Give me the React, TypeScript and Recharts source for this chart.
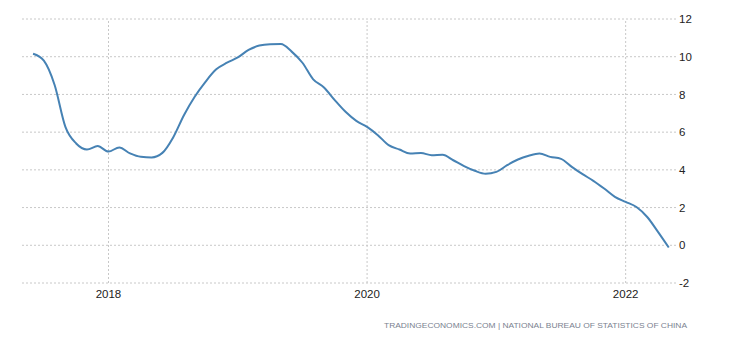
import React from "react";
import { LineChart, Line, XAxis, YAxis, CartesianGrid, ReferenceLine } from "recharts";

const months: string[] = [
  "2017-06", "2017-07", "2017-08", "2017-09", "2017-10", "2017-11", "2017-12",
  "2018-01", "2018-02", "2018-03", "2018-04", "2018-05", "2018-06", "2018-07", "2018-08", "2018-09", "2018-10", "2018-11", "2018-12",
  "2019-01", "2019-02", "2019-03", "2019-04", "2019-05", "2019-06", "2019-07", "2019-08", "2019-09", "2019-10", "2019-11", "2019-12",
  "2020-01", "2020-02", "2020-03", "2020-04", "2020-05", "2020-06", "2020-07", "2020-08", "2020-09", "2020-10", "2020-11", "2020-12",
  "2021-01", "2021-02", "2021-03", "2021-04", "2021-05", "2021-06", "2021-07", "2021-08", "2021-09", "2021-10", "2021-11", "2021-12",
  "2022-01", "2022-02", "2022-03", "2022-04", "2022-05",
];

const values: number[] = [
  10.16, 9.79, 8.5, 6.28, 5.4, 5.08, 5.26,
  4.97, 5.19, 4.87, 4.69, 4.66, 4.9, 5.72, 6.9, 7.88, 8.67, 9.33, 9.68,
  9.96, 10.36, 10.59, 10.66, 10.67, 10.27, 9.68, 8.8, 8.37, 7.7, 7.08, 6.6,
  6.28, 5.84, 5.31, 5.08, 4.87, 4.89, 4.78, 4.8, 4.51, 4.2, 3.95, 3.79,
  3.89, 4.25, 4.55, 4.75, 4.87, 4.69, 4.58, 4.16, 3.77, 3.42, 3.01, 2.57,
  2.3, 2.03, 1.5, 0.71, -0.12,
];

const xTicks: number[] = [2018, 2020, 2022];
const yTicks: number[] = [-2, 0, 2, 4, 6, 8, 10, 12];
const sourceText = "TRADINGECONOMICS.COM | NATIONAL BUREAU OF STATISTICS OF CHINA";

const toYear = (m: string) => {
  const [y, mo] = m.split("-").map(Number);
  return y + (mo - 1) / 12;
};

const data = months.map((m, i) => ({ t: toYear(m), v: values[i] }));

export default function App() {
  return (
    <div style={{ position: "absolute", left: 0, top: 0, width: 730, height: 340, background: "#fff" }}>
      <LineChart
        width={730}
        height={340}
        data={data}
        margin={{ top: 19, right: 0, bottom: 27, left: 22 }}
      >
        <CartesianGrid stroke="#c8c8c8" strokeDasharray="2 2" vertical={false} />
        {xTicks.map((t) => (
          <ReferenceLine key={t} x={t} stroke="#c8c8c8" strokeDasharray="2 2" />
        ))}
        <XAxis
          dataKey="t"
          type="number"
          domain={[2017.331, 2022.397]}
          ticks={xTicks}
          tickFormatter={(v: number) => String(v)}
          axisLine={false}
          tickLine={false}
          tickSize={0}
          tickMargin={7}
          height={30}
          tick={{ fill: "#222", fontSize: 11.5, fontFamily: "Liberation Sans, Arial, sans-serif" }}
          allowDataOverflow
        />
        <YAxis
          orientation="right"
          type="number"
          domain={[-2, 12]}
          ticks={yTicks}
          axisLine={false}
          tickLine={false}
          tickSize={0}
          tickMargin={2}
          width={53}
          tick={{ fill: "#222", fontSize: 11.5, fontFamily: "Liberation Sans, Arial, sans-serif", textAnchor: "start" }}
        />
        <Line
          type="monotone"
          dataKey="v"
          stroke="#4682b4"
          strokeWidth={2}
          dot={false}
          isAnimationActive={false}
        />
      </LineChart>
      <svg width={730} height={340} style={{ position: "absolute", left: 0, top: 0, pointerEvents: "none" }}>
        <text
          x={384}
          y={327.5}
          fontSize={8}
          fill="#7a8290"
          fontFamily="Liberation Sans, Arial, sans-serif"
          textLength={303}
          lengthAdjust="spacingAndGlyphs"
        >
          {sourceText}
        </text>
      </svg>
    </div>
  );
}
